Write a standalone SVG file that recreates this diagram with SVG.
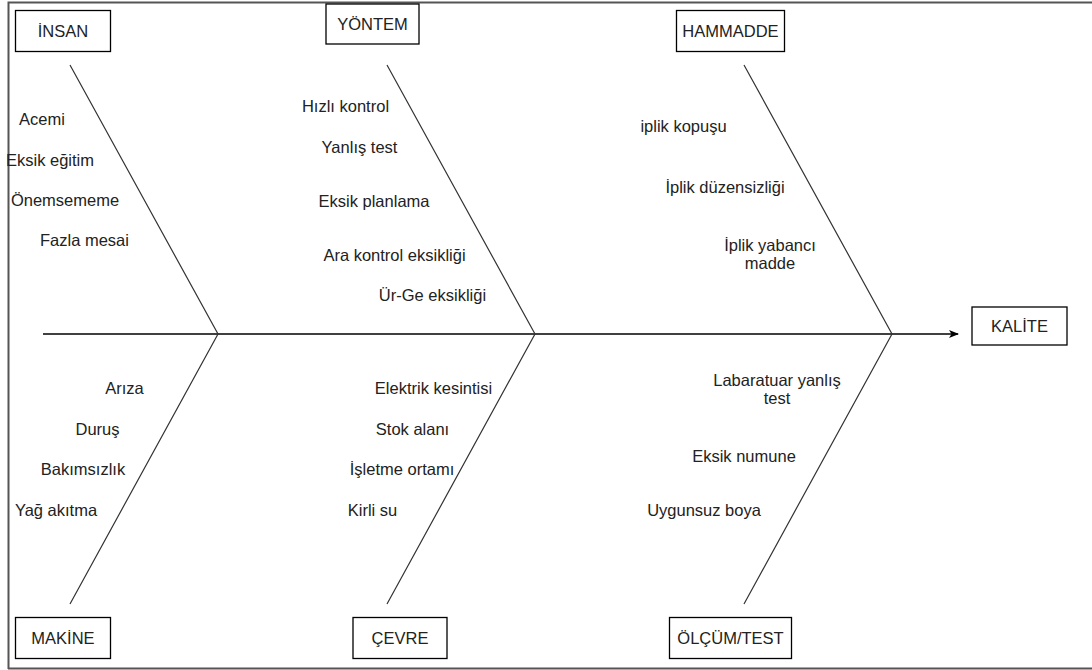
<svg xmlns="http://www.w3.org/2000/svg" width="1092" height="670" viewBox="0 0 1092 670">
<defs>
<style>
.box{fill:#fff;stroke:#000;stroke-width:1.3}
.ln{stroke:#333;stroke-width:1.2;fill:none}
.t{font-family:"Liberation Sans",Arial,sans-serif;font-size:16.5px;fill:#222;text-anchor:middle}
</style>
<marker id="arr" viewBox="0 0 10 10" refX="9" refY="5" markerWidth="11" markerHeight="10" markerUnits="userSpaceOnUse" orient="auto">
<path d="M0,1 L10,5 L0,9 L2.5,5 Z" fill="#000"/>
</marker>
</defs>
<rect x="0" y="0" width="1092" height="670" fill="#fff"/>
<path d="M8.5,669 V2.5 H1092" fill="none" stroke="#555" stroke-width="2"/>
<line x1="8" y1="668.5" x2="1092" y2="668.5" stroke="#555" stroke-width="2"/>
<g id="connectors">
<line x1="43" y1="334" x2="958" y2="334" stroke="#000" stroke-width="1.5" marker-end="url(#arr)"/>
<path class="ln" d="M70,65 L218,334 L70,604"/>
<path class="ln" d="M387,65 L535,334 L387,604"/>
<path class="ln" d="M744,65 L892,334 L744,604"/>
</g>
<g id="insan"><rect class="box" x="15.5" y="10.5" width="95" height="41"/><text class="t" x="63" y="36.5">İNSAN</text></g>
<g id="yontem"><rect class="box" x="326" y="4" width="93" height="40"/><text class="t" x="372.5" y="29.5">YÖNTEM</text></g>
<g id="hammadde"><rect class="box" x="676.5" y="10.5" width="108" height="41"/><text class="t" x="730.5" y="36.5">HAMMADDE</text></g>
<g id="kalite"><rect class="box" x="972" y="307" width="95" height="38"/><text class="t" x="1019.5" y="332">KALİTE</text></g>
<g id="makine"><rect class="box" x="15.5" y="617.5" width="95" height="41"/><text class="t" x="63" y="643.5">MAKİNE</text></g>
<g id="cevre"><rect class="box" x="353" y="617.5" width="94" height="41"/><text class="t" x="400" y="643.5">ÇEVRE</text></g>
<g id="olcum"><rect class="box" x="669.5" y="617.5" width="122" height="41"/><text class="t" x="730.5" y="643.5">ÖLÇÜM/TEST</text></g>
<g id="causes-insan">
<text class="t" x="42" y="125">Acemi</text>
<text class="t" x="50" y="166">Eksik eğitim</text>
<text class="t" x="65" y="206">Önemsememe</text>
<text class="t" x="84.5" y="246">Fazla mesai</text>
</g>
<g id="causes-yontem">
<text class="t" x="345.5" y="112">Hızlı kontrol</text>
<text class="t" x="359.5" y="152.5">Yanlış test</text>
<text class="t" x="374" y="206.5">Eksik planlama</text>
<text class="t" x="394.5" y="260.5">Ara kontrol eksikliği</text>
<text class="t" x="432.5" y="300.5">Ür-Ge eksikliği</text>
</g>
<g id="causes-hammadde">
<text class="t" x="683.5" y="131.5">iplik kopuşu</text>
<text class="t" x="725" y="192.5">İplik düzensizliği</text>
<text class="t" x="770" y="250.5">İplik yabancı</text>
<text class="t" x="770" y="269">madde</text>
</g>
<g id="causes-makine">
<text class="t" x="124.5" y="393.5">Arıza</text>
<text class="t" x="97.5" y="434.5">Duruş</text>
<text class="t" x="83" y="474.5">Bakımsızlık</text>
<text class="t" x="56" y="515.5">Yağ akıtma</text>
</g>
<g id="causes-cevre">
<text class="t" x="433.5" y="393.5">Elektrik kesintisi</text>
<text class="t" x="412.5" y="434.5">Stok alanı</text>
<text class="t" x="402" y="474.5">İşletme ortamı</text>
<text class="t" x="372.5" y="515.5">Kirli su</text>
</g>
<g id="causes-olcum">
<text class="t" x="777" y="385.5">Labaratuar yanlış</text>
<text class="t" x="777" y="403.5">test</text>
<text class="t" x="744" y="461.5">Eksik numune</text>
<text class="t" x="704" y="515.5">Uygunsuz boya</text>
</g>
</svg>
